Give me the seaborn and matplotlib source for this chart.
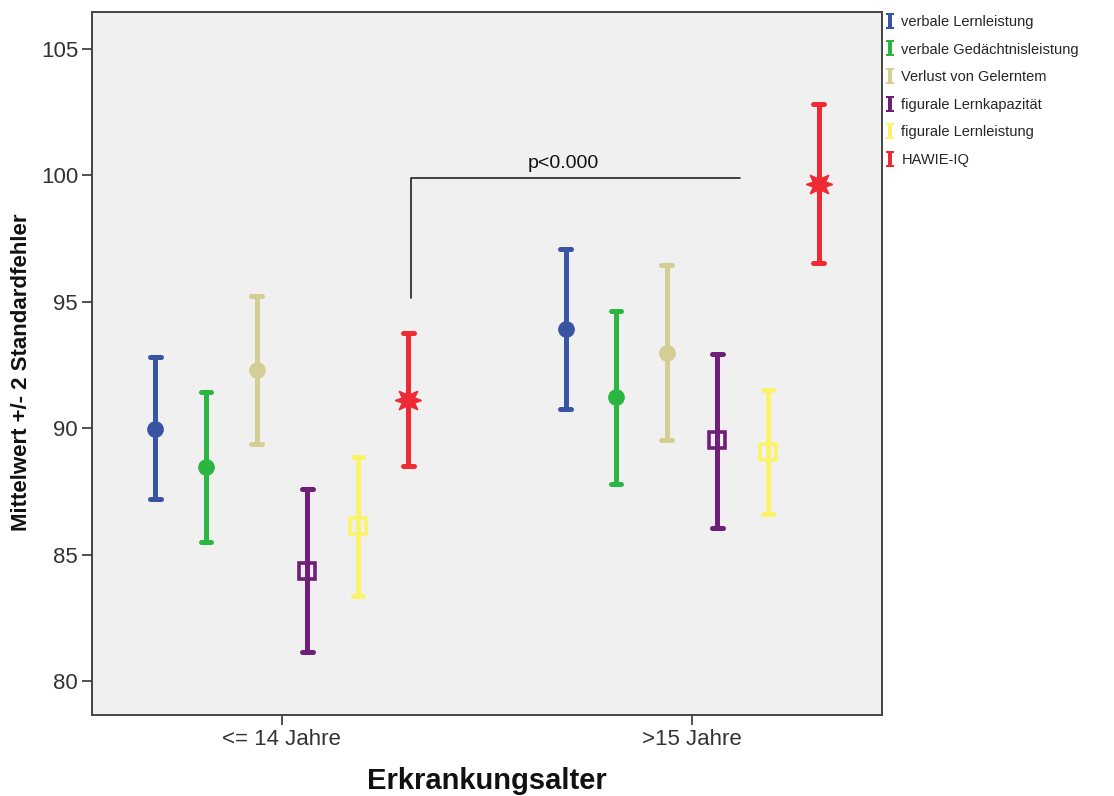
import numpy as np
import pandas as pd
import matplotlib
matplotlib.use("Agg")
import matplotlib.pyplot as plt
from matplotlib.lines import Line2D
from matplotlib.path import Path
from matplotlib import font_manager
import seaborn as sns

# Werte (Mittelwert, untere / obere Grenze +/- 2 SE)
groups = ["<= 14 Jahre", ">15 Jahre"]
series = ["verbale Lernleistung", "verbale Gedächtnisleistung", "Verlust von Gelerntem",
          "figurale Lernkapazität", "figurale Lernleistung", "HAWIE-IQ"]
colors = ["#3A54A4", "#2BB641", "#D4CE95", "#6F1F7A", "#FBF46A", "#EE2B34"]
markers = ["o", "o", "o", "s", "s", (8, 1, 0)]

mean_young = [89.96, 88.45, 92.30, 84.36, 86.13, 91.12]
lower_young = [87.20, 85.51, 89.36, 81.16, 83.36, 88.52]
upper_young = [92.80, 91.42, 95.23, 87.61, 88.86, 93.77]

mean_old = [93.92, 91.22, 92.99, 89.53, 89.07, 99.66]
lower_old = [90.77, 87.79, 89.53, 86.06, 86.61, 96.53]
upper_old = [97.08, 94.62, 96.47, 92.95, 91.51, 102.81]

# Signifikanz-Klammer
bracket_x = [0.315, 0.315, 1.117]
bracket_y = [95.15, 99.89, 99.89]
p_text = "p<0.000"
p_pos = (0.685, 100.3)

# long format: je Punkt untere Grenze, Mittelwert, obere Grenze
rows = []
for g, m, lo, hi in [(groups[0], mean_young, lower_young, upper_young),
                     (groups[1], mean_old, lower_old, upper_old)]:
    for s, mv, lv, hv in zip(series, m, lo, hi):
        for v in (lv, mv, hv):
            rows.append({"Gruppe": g, "Test": s, "Wert": v})
df = pd.DataFrame(rows)

sns.set_theme(style="ticks")
plt.rcParams["font.family"] = ["Liberation Sans", "DejaVu Sans"]

installed = {f.name for f in font_manager.fontManager.ttflist}
if "Liberation Sans Narrow" in installed:
    ylab_font, ylab_size = ["Liberation Sans Narrow", "DejaVu Sans"], 19
else:
    ylab_font, ylab_size = ["Liberation Sans", "DejaVu Sans"], 16

fig = plt.figure(figsize=(11.14, 7.96), dpi=100)
ax = fig.add_axes([92 / 1114, 1 - 715 / 796, 790 / 1114, 703 / 796])
ax.set_facecolor("#F0F0F0")

sns.pointplot(data=df, x="Gruppe", y="Wert", hue="Test", order=groups, hue_order=series,
              palette=colors, markers=markers, linestyles="none", dodge=0.617,
              estimator="median", errorbar=lambda v: (v.min(), v.max()),
              capsize=0.026, err_kws={"linewidth": 3.6}, markersize=10,
              legend=False, ax=ax)

# Quadrate offen, Stern groesser
for ln in ax.lines:
    mk = ln.get_marker()
    if mk == "s":
        ln.set_markerfacecolor("none")
        ln.set_markeredgewidth(2.6)
        ln.set_markersize(11)
    elif isinstance(mk, tuple):
        ln.set_markersize(19)
        ln.set_markeredgewidth(1)

ax.plot(bracket_x, bracket_y, color="#222222", linewidth=1.2)
ax.text(p_pos[0], p_pos[1], p_text, ha="center", va="baseline", fontsize=14, color="#111111")

ax.set_xlim(-0.463, 1.463)
ax.set_ylim(78.66, 106.46)
ax.set_yticks([80, 85, 90, 95, 100, 105])
ax.tick_params(axis="both", length=7, width=1.2, color="#333333", labelsize=16,
               labelcolor="#333333", pad=3)
for sp in ax.spines.values():
    sp.set_visible(True)
    sp.set_color("#444444")
    sp.set_linewidth(1.4)

ax.set_xlabel("Erkrankungsalter", fontsize=21, fontweight="bold", color="#111111")
ax.xaxis.set_label_coords(0.5, -0.074)
ax.set_ylabel("Mittelwert +/- 2 Standardfehler", fontsize=ylab_size, fontweight="bold",
              family=ylab_font, color="#111111")
ax.yaxis.set_label_coords(-0.076, 0.488)

# Legende mit I-Symbolen wie im Original
ibeam = Path([(-0.5, 1), (0.5, 1), (0.5, 0.72), (0.25, 0.72), (0.25, -0.72), (0.5, -0.72),
              (0.5, -1), (-0.5, -1), (-0.5, -0.72), (-0.25, -0.72), (-0.25, 0.72),
              (-0.5, 0.72), (-0.5, 1)])
handles = [Line2D([0], [0], linestyle="none", marker=ibeam, markersize=12, color=c,
                  markeredgewidth=0) for c in colors]
fig.legend(handles, series, loc="upper left", bbox_to_anchor=(886 / 1114, 1 - 15 / 796),
           frameon=False, fontsize=10.5, handlelength=0.6, handletextpad=0.45,
           labelspacing=0.93, borderaxespad=0, borderpad=0)

fig.savefig("out.png", dpi=100)
